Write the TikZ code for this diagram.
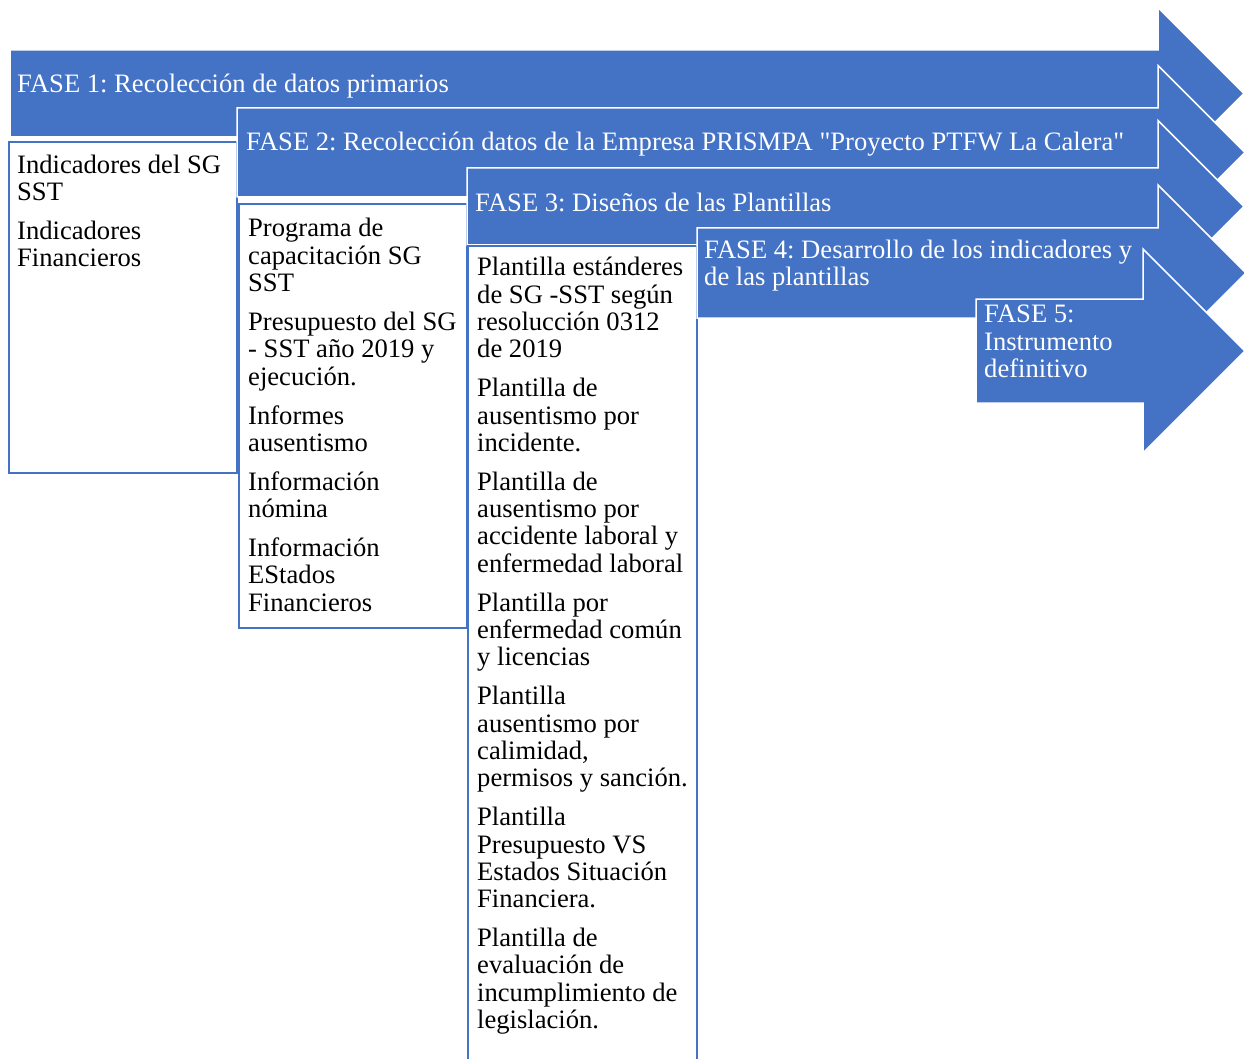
\documentclass[tikz,border=0pt]{standalone}
\usepackage{fontspec}
\setmainfont{Liberation Serif}
\definecolor{azulfase}{HTML}{4472C4}
\frenchspacing

\begin{document}
\begin{tikzpicture}[x=1pt,y=-1pt,
    fase/.style={fill=azulfase,draw=white,line width=1.5pt,line join=miter},
    lista/.style={fill=white,draw=azulfase,line width=2.5pt},
    texto/.style={anchor=north west,inner sep=0pt,align=left,
      font=\fontsize{26.6}{27.3}\selectfont}]
  \useasboundingbox (0,0) rectangle (1244,1059);
  \clip (0,0) rectangle (1244,1059);

  % fase 1
  \draw[fase] (10,50) -- (1158,50) -- (1158,7.5) -- (1244,93.5) -- (1158,179.5)
    -- (1158,137) -- (10,137) -- cycle;
  \node[texto, text=white] (fase1) at (17,73) {\strut FASE 1: Recolección de datos primarios};
  \draw[lista] (9,142) rectangle (237,473);
  \node[texto] (datos1) at (17,154) {\strut Indicadores del SG\\SST\\[11.7pt]
    Indicadores\\Financieros};

  % fase 2
  \draw[fase] (237,108) -- (1158,108) -- (1158,65.5) -- (1245,152.5) -- (1158,239.5)
    -- (1158,197) -- (237,197) -- cycle;
  \node[texto, text=white] (fase2) at (246,131.5) {\strut FASE 2: Recolección datos de la Empresa PRISMPA \textquotedbl Proyecto PTFW La Calera\textquotedbl};
  \draw[lista] (239,204) rectangle (467,628);
  \node[texto] (datos2) at (248,217.5) {\strut Programa de\\capacitación SG\\SST\\[11.7pt]
    Presupuesto del SG\\- SST año 2019 y\\ejecución.\\[11.7pt]
    Informes\\ausentismo\\[11.7pt]
    Información\\nómina\\[11.7pt]
    Información\\EStados\\Financieros};

  % fase 3
  \draw[fase] (467,168) -- (1158,168) -- (1158,120.5) -- (1244,206.5) -- (1158,292.5)
    -- (1158,245) -- (467,245) -- cycle;
  \node[texto, text=white] (fase3) at (475,192) {\strut FASE 3: Diseños de las Plantillas};
  \draw[lista] (468,246) rectangle (697,1075);
  \node[texto] (datos3) at (477,256.5) {\strut Plantilla estánderes\\de SG -SST según\\resolucción 0312\\de 2019\\[11.7pt]
    Plantilla de\\ausentismo por\\incidente.\\[11.7pt]
    Plantilla de\\ausentismo por\\accidente laboral y\\enfermedad laboral\\[11.7pt]
    Plantilla por\\enfermedad común\\y licencias\\[11.7pt]
    Plantilla\\ausentismo por\\calimidad,\\permisos y sanción.\\[11.7pt]
    Plantilla\\Presupuesto VS\\Estados Situación\\Financiera.\\[11.7pt]
    Plantilla de\\evaluación de\\incumplimiento de\\legislación.};

  % fase 4
  \draw[fase] (697,228) -- (1158,228) -- (1158,185) -- (1246,273) -- (1158,361)
    -- (1158,318) -- (697,318) -- cycle;
  \node[texto, text=white] (fase4) at (704,238.8) {\strut FASE 4: Desarrollo de los indicadores y\\de las plantillas};

  % fase 5
  \draw[fase] (976,299) -- (1143,299) -- (1143,249) -- (1245,351) -- (1143,453)
    -- (1143,403) -- (976,403) -- cycle;
  \node[texto, text=white] (fase5) at (984,303.5) {\strut FASE 5:\\Instrumento\\definitivo};
\end{tikzpicture}
\end{document}
